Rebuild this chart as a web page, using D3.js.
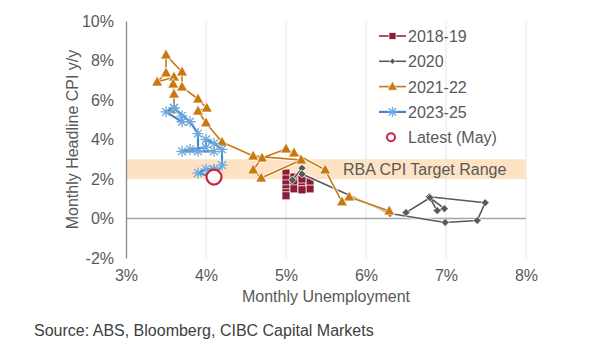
<!DOCTYPE html>
<html><head><meta charset="utf-8">
<script src="https://cdn.jsdelivr.net/npm/d3@7"></script>
<style>
body{margin:0;background:#fff;}
text{font-family:"Liberation Sans",Arial,sans-serif;}
</style></head>
<body><svg id="c" width="608" height="360"></svg>
<script>
// ---- data ----
const xTicks = [3, 4, 5, 6, 7, 8];
const yTicks = [-2, 0, 2, 4, 6, 8, 10];
const seriesNames = ["2018-19", "2020", "2021-22", "2023-25"];
const latestLabel = "Latest (May)";
const targetRange = [2, 3];
const targetLabel = "RBA CPI Target Range";

const u2018_19   = [5.0, 5.0, 5.0, 5.1, 5.1, 5.0, 5.0, 5.0, 5.1, 5.2, 5.2, 5.3, 5.3, 5.3, 5.2, 5.2];
const cpi2018_19 = [2.3, 2.0, 1.75, 2.1, 1.8, 1.5, 1.3, 1.15, 1.5, 1.6, 1.85, 1.75, 1.5, 1.9, 2.0, 1.45];

const u2020   = [5.08, 5.2, 5.2, 6.3, 6.99, 7.39, 7.49, 6.79, 6.89, 6.98, 6.8, 6.5];
const cpi2020 = [1.95, 2.55, 2.25, 0.25, -0.2, -0.1, 0.8, 1.1, 0.4, 0.5, 1.05, 0.3];

const u2021_22   = [6.29, 5.79, 5.70, 5.49, 5.10, 5.00, 4.70, 4.59, 4.69, 5.19, 4.59, 4.20, 4.00, 3.90, 4.01, 3.90, 3.70, 3.70, 3.50, 3.50, 3.39, 3.60, 3.59, 3.60, 3.60];
const cpi2021_22 = [0.38, 1.09, 0.84, 2.46, 3.32, 3.52, 3.06, 2.46, 2.05, 2.96, 3.16, 3.87, 4.84, 5.44, 5.59, 6.05, 6.66, 7.42, 8.28, 7.37, 6.91, 7.16, 6.81, 6.30, 5.5];

const u2023_25   = [3.6, 3.5, 3.7, 3.7, 3.6, 3.8, 3.9, 3.9, 4.1, 3.7, 3.8, 4.0, 4.0, 4.1, 4.2, 4.2, 4.1, 4.1, 3.9, 4.0, 4.1, 4.1, 4.1, 4.1, 4.1];
const cpi2023_25 = [5.6, 5.4, 4.9, 5.2, 5.6, 4.9, 4.3, 3.4, 3.4, 3.4, 3.5, 3.6, 4.0, 3.8, 3.5, 2.7, 2.1, 2.1, 2.3, 2.5, 2.5, 2.4, 2.4, 2.4, 2.1];

const latestU = [4.1], latestCpi = [2.1];

// ---- drawing ----
const svg = d3.select("#c");
const W = 608, H = 360;
const m = {l:126, r:82, t:21, b:102};
const x = d3.scaleLinear().domain([3, 8]).range([m.l, W - m.r]);
const y = d3.scaleLinear().domain([-2, 10]).range([H - m.b, m.t]);

const txt = "#595959";

// target band
svg.append("rect")
  .attr("x", x(3)).attr("width", x(8) - x(3))
  .attr("y", y(targetRange[1])).attr("height", y(targetRange[0]) - y(targetRange[1]))
  .attr("fill", "#FDE3C3");

// vertical gridlines
svg.append("g").selectAll("line").data(xTicks.slice(1)).join("line")
  .attr("x1", d => x(d)).attr("x2", d => x(d))
  .attr("y1", y(10)).attr("y2", y(-2))
  .attr("stroke", "#E6E6E6").attr("stroke-width", 1);

// zero line
svg.append("line").attr("x1", x(3)).attr("x2", x(8))
  .attr("y1", y(0)).attr("y2", y(0)).attr("stroke", "#A6A6A6").attr("stroke-width", 1.3);

// y axis
const yAxis = d3.axisLeft(y).tickValues(yTicks).tickSize(0).tickPadding(12)
  .tickFormat(d => d + "%");
const gy = svg.append("g").attr("transform", `translate(${x(3)},0)`).call(yAxis);
gy.select(".domain").attr("stroke", "#888").attr("stroke-width", 1.3);
gy.selectAll("text").attr("fill", txt).attr("font-size", 16);

// x axis (labels only)
const xAxis = d3.axisBottom(x).tickValues(xTicks).tickSize(0).tickPadding(12)
  .tickFormat(d => d + "%");
const gx = svg.append("g").attr("transform", `translate(0,${y(-2)})`).call(xAxis);
gx.select(".domain").remove();
gx.selectAll("text").attr("fill", txt).attr("font-size", 16);

// axis titles
svg.append("text").attr("x", (x(3) + x(8)) / 2).attr("y", 302)
  .attr("text-anchor", "middle").attr("fill", txt).attr("font-size", 16)
  .text("Monthly Unemployment");
svg.append("text").attr("transform", `translate(78,${(y(10) + y(-2)) / 2}) rotate(-90)`)
  .attr("text-anchor", "middle").attr("fill", txt).attr("font-size", 16)
  .text("Monthly Headline CPI y/y");

// band label
svg.append("text").attr("x", 343).attr("y", y(2.5) + 6)
  .attr("fill", txt).attr("font-size", 16).text(targetLabel);

// source
svg.append("text").attr("x", 34).attr("y", 336)
  .attr("fill", "#404040").attr("font-size", 16)
  .text("Source: ABS, Bloomberg, CIBC Capital Markets");

function pts(us, cs){ return us.map((u, i) => [u, cs[i]]); }
const line = d3.line().x(d => x(d[0])).y(d => y(d[1]));

const series = [
  {name: seriesNames[0], data: pts(u2018_19, cpi2018_19), color: "#8C1D36", marker: "square", lw: 1.5},
  {name: seriesNames[1], data: pts(u2020, cpi2020), color: "#595959", marker: "diamond", lw: 1.6},
  {name: seriesNames[2], data: pts(u2021_22, cpi2021_22), color: "#C8780E", marker: "triangle", lw: 1.6},
  {name: seriesNames[3], data: pts(u2023_25, cpi2023_25), color: "#3F87C6", marker: "star", lw: 2.2}
];

function drawMarker(g, type, color, cx, cy, s){
  if (type === "square") {
    g.append("rect").attr("x", cx - s/2).attr("y", cy - s/2).attr("width", s).attr("height", s)
      .attr("fill", color).attr("stroke", "#fff").attr("stroke-width", 0.7);
  } else if (type === "diamond") {
    g.append("path").attr("d", `M${cx},${cy - s/2}L${cx + s/2},${cy}L${cx},${cy + s/2}L${cx - s/2},${cy}Z`)
      .attr("fill", color).attr("stroke", "#fff").attr("stroke-width", 0.7);
  } else if (type === "triangle") {
    const h = s * 0.9;
    g.append("path").attr("d", `M${cx},${cy - h*0.6}L${cx + s/2},${cy + h*0.4}L${cx - s/2},${cy + h*0.4}Z`)
      .attr("fill", color).attr("stroke", "#fff").attr("stroke-width", 0.7);
  } else if (type === "star") {
    const r = s/2, d = r * 0.72;
    g.append("path").attr("d",
      `M${cx},${cy - r}L${cx},${cy + r}M${cx - d},${cy - d}L${cx + d},${cy + d}M${cx - d},${cy + d}L${cx + d},${cy - d}M${cx - r},${cy}L${cx + r},${cy}`)
      .attr("fill", "none").attr("stroke", "#6FA8DC").attr("stroke-width", 1.3);
  }
}

const sizes = {square: 8, diamond: 8, triangle: 11, star: 11};

series.forEach(s => {
  const g = svg.append("g");
  g.append("path").datum(s.data).attr("d", line).attr("fill", "none")
    .attr("stroke", "rgba(255,255,255,0.8)").attr("stroke-width", s.lw + 2).attr("stroke-linejoin", "round");
  g.append("path").datum(s.data).attr("d", line).attr("fill", "none")
    .attr("stroke", s.color).attr("stroke-width", s.lw).attr("stroke-linejoin", "round");
  s.data.forEach(d => drawMarker(g, s.marker, s.color, x(d[0]), y(d[1]), sizes[s.marker]));
});

// latest
svg.append("g").selectAll("circle").data(pts(latestU, latestCpi)).join("circle")
  .attr("cx", d => x(d[0])).attr("cy", d => y(d[1])).attr("r", 7.5)
  .attr("fill", "#fff").attr("stroke", "#C8243F").attr("stroke-width", 2.2);

// legend
const lg = svg.append("g");
const ly0 = 36, ldy = 25.3;
series.forEach((s, i) => {
  const yy = ly0 + i * ldy;
  lg.append("line").attr("x1", 379).attr("x2", 406).attr("y1", yy).attr("y2", yy)
    .attr("stroke", s.color).attr("stroke-width", s.lw);
  drawMarker(lg, s.marker, s.color, 392.5, yy, s.marker === "diamond" ? 6 : sizes[s.marker] - 1);
  lg.append("text").attr("x", 408).attr("y", yy + 6).attr("fill", txt).attr("font-size", 16).text(s.name);
});
{
  const yy = ly0 + 4 * ldy;
  lg.append("circle").attr("cx", 391).attr("cy", yy).attr("r", 4)
    .attr("fill", "#fff").attr("stroke", "#C8243F").attr("stroke-width", 2);
  lg.append("text").attr("x", 408).attr("y", yy + 6).attr("fill", txt).attr("font-size", 16).text(latestLabel);
}
</script></body></html>
